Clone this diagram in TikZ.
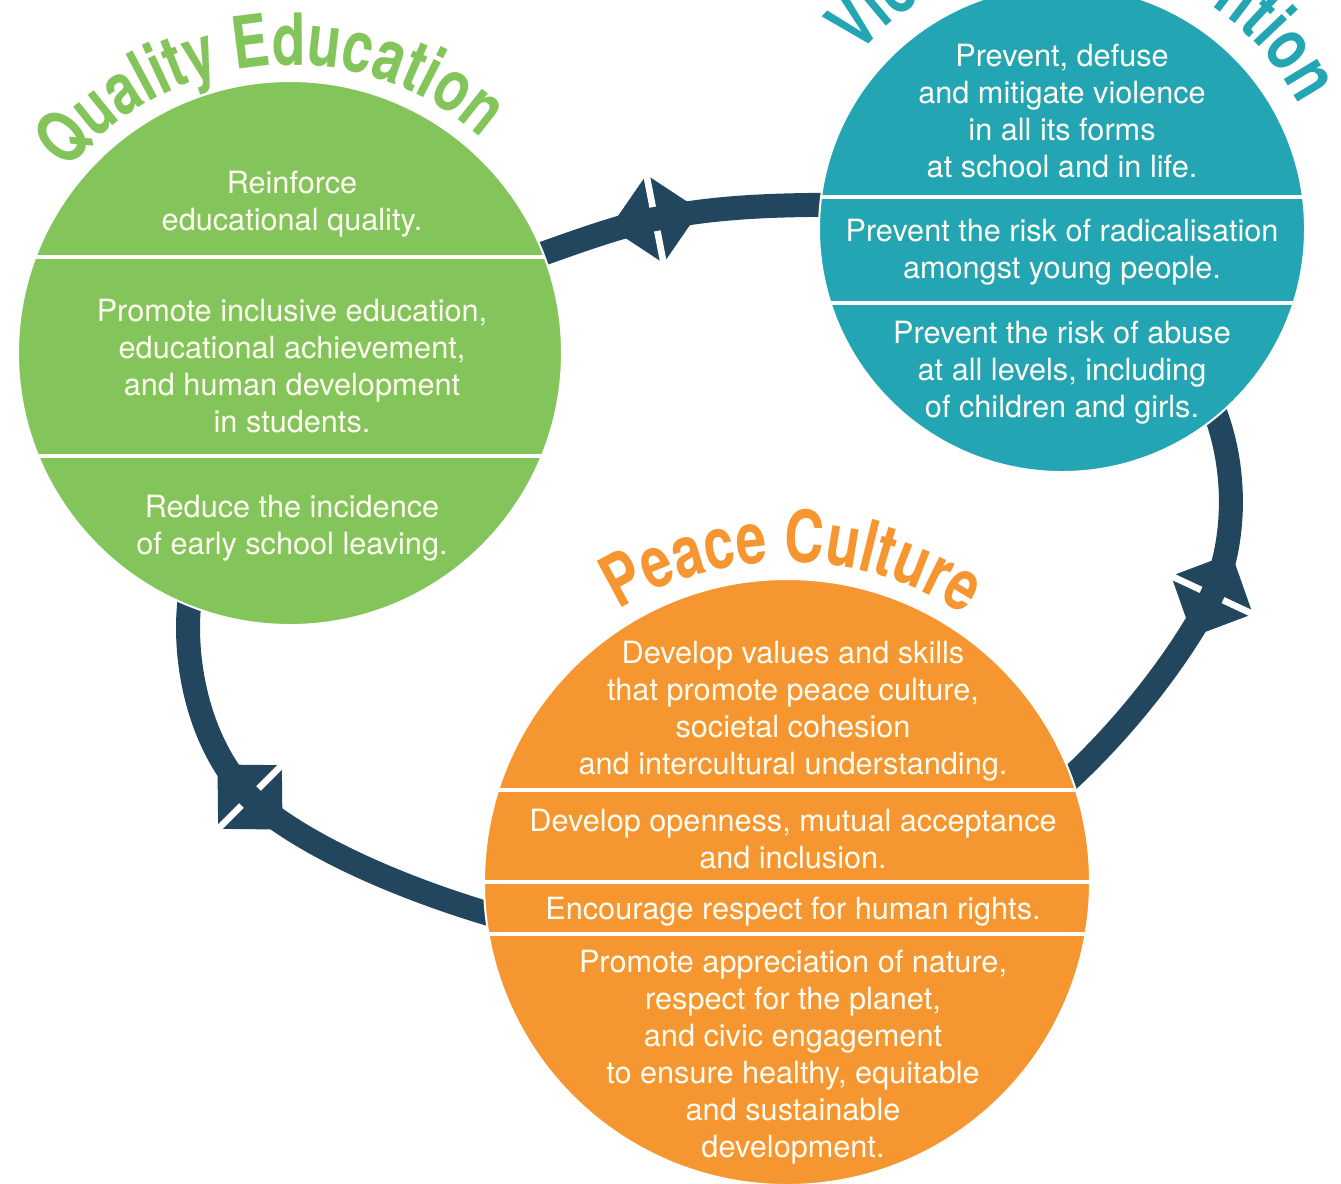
\documentclass[tikz,border=0pt]{standalone}
\usepackage{fontspec}
\setmainfont{TeX Gyre Heros}
\newfontfamily\titlefont{TeX Gyre Heros}[FakeStretch=0.76]
\usetikzlibrary{decorations.text}
\definecolor{qgreen}{RGB}{131,197,91}
\definecolor{vteal}{RGB}{35,165,179}
\definecolor{porange}{RGB}{246,150,49}
\definecolor{navy}{RGB}{34,70,93}
\definecolor{cream}{RGB}{255,253,242}
\newcommand\ttlfmt{\titlefont\bfseries\fontsize{54}{54}\selectfont}
\begin{document}
\begin{tikzpicture}[x=0.75pt,y=0.75pt,
  ring/.style={draw=navy, line width=18pt},
  bubble/.style={circle, draw=white, line width=1.5pt, inner sep=0pt},
  body/.style={text=cream, align=center, inner sep=0pt, font=\fontsize{23}{27.75}\selectfont},
  divider/.style={draw=white, line width=3pt},
  stopmark/.pic={
    \fill[navy] (-46,0) -- (0,45) -- (46,0) -- (0,-45) -- cycle;
    \draw[white, line width=5pt] (0,-50) -- (0,50);
    \draw[navy, line width=18pt] (-12,0) -- (12,0);
  }]
\useasboundingbox (0,0) rectangle (1341,-1183);
\fill[white] (0,0) rectangle (1341,-1183);
\clip (0,0) rectangle (1341,-1183);

% ring segments
\coordinate (m1) at (655,-219);
\coordinate (m2) at (1212,-595);
\coordinate (m3) at (250,-797);
\draw[ring] (480,-276) .. controls (560,-248) and (610,-228) .. (m1)
  .. controls (720,-206) and (780,-204) .. (880,-205);
\draw[ring] (1200,-380) .. controls (1240,-450) and (1238,-540) .. (m2)
  .. controls (1191,-639) and (1130,-730) .. (1040,-805);
\draw[ring] (200,-555) .. controls (175,-620) and (188,-735) .. (m3)
  .. controls (290,-837) and (400,-895) .. (560,-933);

\pic[rotate=11] at (m1) {stopmark};
\pic[rotate=65] at (m2) {stopmark};
\pic[rotate=-45] at (m3) {stopmark};

% circles
\node[bubble, fill=qgreen, minimum size=408pt] (green) at (290,-353) {};
\node[bubble, fill=vteal, minimum size=364.5pt] (teal) at (1062,-229) {};
\node[bubble, fill=porange, minimum size=454.5pt] (orange) at (787,-882) {};

% dividers
\begin{scope}
\clip (green.center) circle[radius=271];
\draw[divider] (0,-257) -- (600,-257);
\draw[divider] (0,-456) -- (600,-456);
\end{scope}
\begin{scope}
\clip (teal.center) circle[radius=242];
\draw[divider] (800,-197) -- (1341,-197);
\draw[divider] (800,-303) -- (1341,-303);
\end{scope}
\begin{scope}
\clip (orange.center) circle[radius=302];
\draw[divider] (470,-790) -- (1110,-790);
\draw[divider] (470,-882) -- (1110,-882);
\draw[divider] (470,-934) -- (1110,-934);
\end{scope}

% titles
\path[decorate, decoration={text along path, text align=center, text color=qgreen,
  text={|\ttlfmt|Quality Education}}]
  (green.center) ++(154.5:288) arc[start angle=154.5, end angle=34.5, radius=288];
\path[decorate, decoration={text along path, text align=center, text color=vteal,
  text={|\ttlfmt|Violence Prevention}}]
  (teal.center) ++(150:268) arc[start angle=150, end angle=17, radius=268];
\path[decorate, decoration={text along path, text align=center, text color=porange,
  text={|\ttlfmt|Peace Culture}}]
  (orange.center) ++(149:320) arc[start angle=149, end angle=29, radius=320];

% texts
\node[body] (g1) at (292,-204) {Reinforce\\educational quality.};
\node[body] (g2) at (292,-366) {Promote inclusive education,\\educational achievement,\\and human development\\in students.};
\node[body] (g3) at (292,-528) {Reduce the incidence\\of early school leaving.};

\node[body] (t1) at (1062,-111) {Prevent, defuse\\and mitigate violence\\in all its forms\\at school and in life.};
\node[body] (t2) at (1062,-252) {Prevent the risk of radicalisation\\amongst young people.};
\node[body] (t3) at (1062,-373) {Prevent the risk of abuse\\at all levels, including\\of children and girls.};

\node[body] (o1) at (793,-711) {Develop values and skills\\that promote peace culture,\\societal cohesion\\and intercultural understanding.};
\node[body] (o2) at (793,-839) {Develop openness, mutual acceptance\\and inclusion.};
\node[body] (o3) at (793,-912) {Encourage respect for human rights.};
\node[body] (o4) at (793,-1057) {Promote appreciation of nature,\\respect for the planet,\\and civic engagement\\to ensure healthy, equitable\\and sustainable\\development.};
\end{tikzpicture}
\end{document}
